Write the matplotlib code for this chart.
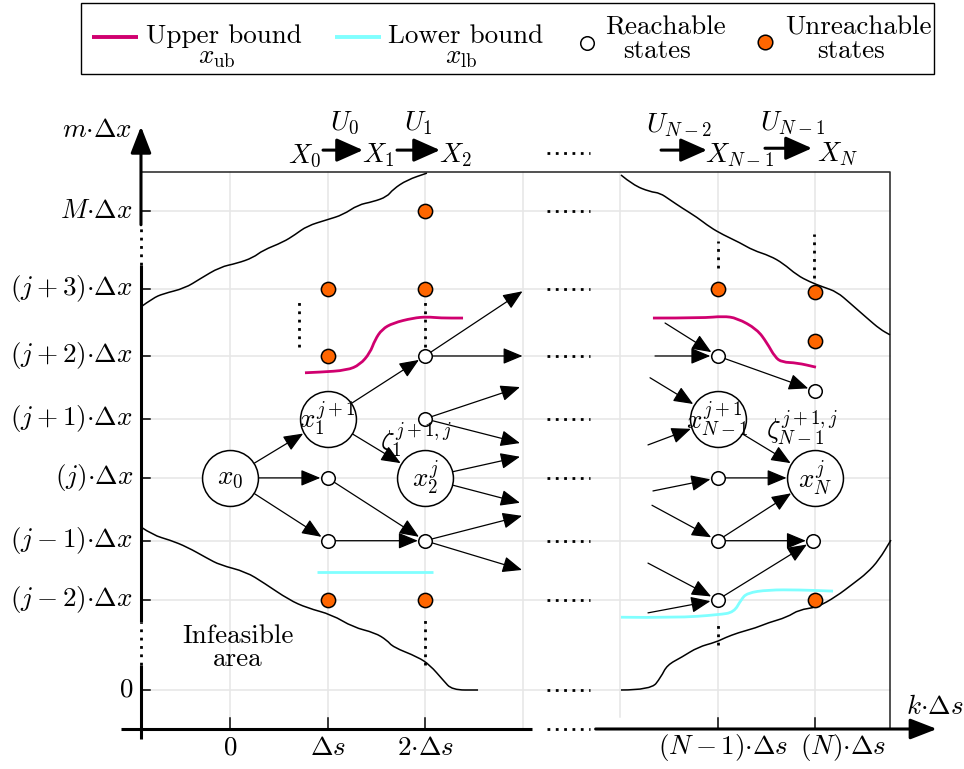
import matplotlib.pyplot as plt
from matplotlib.path import Path
from matplotlib.patches import PathPatch, Rectangle

plt.rcParams['font.family'] = 'cmr10'
plt.rcParams['mathtext.fontset'] = 'cm'
plt.rcParams['axes.formatter.use_mathtext'] = True

FS = 19.5
UB_COLOR = '#d0006f'
LB_COLOR = '#80ffff'
ORANGE = '#ff6600'
GRID = '#e6e6e6'

# grid columns (k) and rows (m)
col_pos = [0, 1, 2, 5, 6]
col_labels = [r'$0$', r'$\Delta s$', r'$2{\cdot}\Delta s$',
              r'$(N-1){\cdot}\Delta s$', r'$(N){\cdot}\Delta s$']
col_label_shift = [0, 0, 0, 0.06, 0.29]
row_names = ['0', 'j-2', 'j-1', 'j', 'j+1', 'j+2', 'j+3', 'M']
row_pos = [0, 1.45, 2.40, 3.41, 4.36, 5.37, 6.45, 7.70]
row_labels = [r'$0$', r'$(j-2){\cdot}\Delta x$', r'$(j-1){\cdot}\Delta x$',
              r'$(j){\cdot}\Delta x$', r'$(j+1){\cdot}\Delta x$',
              r'$(j+2){\cdot}\Delta x$', r'$(j+3){\cdot}\Delta x$',
              r'$M{\cdot}\Delta x$']
R = dict(zip(row_names, row_pos))

# feasibility boundaries
ul_x = [-0.913, -0.79, -0.687, -0.462, -0.308, -0.103, 0.072, 0.236, 0.338, 0.544,
        0.667, 0.79, 0.995, 1.159, 1.313, 1.467, 1.61, 1.672, 1.815, 2.02]
ul_y = [6.16, 6.30, 6.37, 6.46, 6.61, 6.80, 6.86, 6.95, 7.07, 7.20,
        7.32, 7.46, 7.56, 7.64, 7.80, 7.85, 7.93, 8.05, 8.20, 8.31]
ll_x = [-0.913, -0.79, -0.615, -0.441, -0.236, -0.103, 0.164, 0.349, 0.605, 0.79,
        1.046, 1.262, 1.487, 1.61, 1.672, 1.928, 2.051, 2.185, 2.277, 2.544]
ll_y = [2.62, 2.49, 2.41, 2.30, 2.12, 2.01, 1.90, 1.72, 1.45, 1.32,
        1.21, 1.01, 0.92, 0.80, 0.69, 0.53, 0.40, 0.16, 0.0, 0.0]
ur_x = [4.01, 4.133, 4.308, 4.41, 4.513, 4.636, 4.79, 4.923, 5.056, 5.231, 5.364,
        5.538, 5.672, 5.815, 5.949, 6.082, 6.226, 6.359, 6.533, 6.667, 6.769]
ur_y = [8.28, 8.12, 8.01, 7.99, 7.88, 7.75, 7.60, 7.44, 7.32, 7.19, 7.07,
        6.98, 6.86, 6.67, 6.56, 6.48, 6.40, 6.22, 5.98, 5.80, 5.71]
lr_x = [4.01, 4.318, 4.421, 4.482, 4.636, 4.8, 4.985, 5.077, 5.21, 5.395,
        5.518, 5.713, 5.836, 6.021, 6.215, 6.4, 6.533, 6.656, 6.779]
lr_y = [0.0, 0.0, 0.21, 0.40, 0.53, 0.69, 0.77, 0.84, 0.92, 1.00,
        1.08, 1.17, 1.29, 1.33, 1.50, 1.72, 1.88, 2.09, 2.41]

# upper / lower bounds
ub_left_x = [0.769, 0.923, 1.2, 1.333, 1.436, 1.487, 1.559, 1.672, 1.877, 2.021, 2.154, 2.39]
ub_left_y = [5.10, 5.11, 5.14, 5.23, 5.42, 5.63, 5.80, 5.90, 5.98, 6.00, 5.98, 5.98]
ub_right_x = [4.338, 4.851, 5.056, 5.2, 5.405, 5.508, 5.59, 5.662, 5.815, 6.01]
ub_right_y = [5.98, 5.98, 6.01, 5.98, 5.80, 5.58, 5.35, 5.27, 5.26, 5.19]
lb_left_x = [0.892, 2.082]
lb_left_y = [1.90, 1.90]
lb_right_x = [4.01, 4.574, 5.015, 5.169, 5.241, 5.303, 5.518, 5.836, 6.185]
lb_right_y = [1.17, 1.16, 1.21, 1.25, 1.45, 1.56, 1.61, 1.61, 1.59]

# state nodes
big_nodes = [(0, R['j']), (1, R['j+1']), (2, R['j']), (5, R['j+1']), (6, R['j'])]
big_labels = [r'$x_0$', r'$x_1^{j+1}$', r'$x_2^{j}$', r'$x_{N-1}^{j+1}$', r'$x_N^{j}$']
reachable = [(1, R['j']), (1, R['j-1']), (2, R['j+2']), (2, R['j+1']), (2, R['j-1']),
             (5, R['j+2']), (5, R['j']), (5, R['j-1']), (5, R['j-2']),
             (6, 4.81), (5.98, R['j-1'])]
unreachable = [(1, R['j+3']), (1, R['j+2']), (1, R['j-2']), (2, R['M']), (2, R['j+3']),
               (2, R['j-2']), (5, R['j+3']), (6, 6.40), (6, 5.61), (6, R['j-2'])]

# transitions (start, end); loose ends have no node
edges = [
    ((0, R['j']), (1, R['j+1'])), ((0, R['j']), (1, R['j'])), ((0, R['j']), (1, R['j-1'])),
    ((1, R['j+1']), (2, R['j+2'])), ((1, R['j+1']), (2, R['j'])),
    ((1, R['j']), (2, R['j-1'])), ((1, R['j-1']), (2, R['j-1'])),
    ((2, R['j+2']), (3.0, 6.41)), ((2, R['j+2']), (3.0, 5.37)),
    ((2, R['j+1']), (2.974, 4.87)), ((2, R['j+1']), (2.974, 3.97)),
    ((2, R['j']), (2.974, 3.75)), ((2, R['j']), (2.974, 3.01)),
    ((2, R['j-1']), (2.995, 2.80)), ((2, R['j-1']), (2.995, 1.93)),
    ((4.462, 5.90), (5, R['j+2'])), ((4.359, 5.37), (5, R['j+2'])),
    ((4.308, 5.02), (5, R['j+1'])), ((4.287, 3.94), (5, R['j+1'])),
    ((4.338, 3.20), (5, R['j'])), ((4.328, 2.97), (5, R['j-1'])),
    ((4.287, 2.04), (5, R['j-2'])), ((4.287, 1.24), (5, R['j-2'])),
    ((5, R['j+2']), (6, 4.81)), ((5, R['j+1']), (6, R['j'])),
    ((5, R['j']), (6, R['j'])), ((5, R['j-1']), (6, R['j'])),
    ((5, R['j-1']), (5.98, R['j-1'])), ((5, R['j-2']), (5.98, R['j-1'])),
]

# vertical "..." markers (x, y0, y1)
vdots = [(0.71, 5.52, 6.23), (2, 5.52, 6.30), (2, 0.40, 1.13),
         (5, 6.79, 7.22), (5.99, 6.62, 7.33), (5, 0.72, 1.13)]
hdots_y = row_pos + [8.63]

# legend entries
legend_names = ['Upper bound', 'Lower bound', 'Reachable', 'Unreachable']
legend_subs = [r'$x_{\rm ub}$', r'$x_{\rm lb}$', 'states', 'states']

X_AX = -0.913   # y axis position
Y_AX = -0.627   # x axis position
X_END = 6.769
Y_TOP = 8.328
DOTS = (0, (1, 2))


def smooth_curve(ax, xs, ys, **kw):
    # quadratic bezier through the midpoints of the read points
    pts = list(zip(xs, ys))
    verts, codes = [pts[0]], [Path.MOVETO]
    for i in range(1, len(pts) - 1):
        mid = ((pts[i][0] + pts[i + 1][0]) / 2, (pts[i][1] + pts[i + 1][1]) / 2)
        verts += [pts[i], mid]
        codes += [Path.CURVE3, Path.CURVE3]
    verts.append(pts[-1])
    codes.append(Path.LINETO)
    ax.add_patch(PathPatch(Path(verts, codes), fill=False, **kw))


fig = plt.figure(figsize=(9.64, 7.69), dpi=100)
ax = fig.add_axes([0, 0, 1, 1])
ax.set_xlim(-230 / 97.5, (964 - 230) / 97.5)
ax.set_ylim((690 - 769) / 62.2, 690 / 62.2)
ax.axis('off')

# grid
for x in [0, 1, 2, 3, 4, 5, 6]:
    ax.plot([x, x], [-0.43 if x != 3 else Y_AX, Y_TOP], color=GRID, lw=1.1, zorder=0)
for y in row_pos:
    ax.plot([X_AX, X_END], [y, y], color=GRID, lw=1.1, zorder=0)

# frame
ax.plot([X_AX, X_END, X_END], [Y_TOP, Y_TOP, Y_AX], color='#333333', lw=1.2, zorder=1)

# axes with arrows
ax.plot([X_AX, X_AX], [-0.79, 0.40], color='k', lw=2.2, solid_capstyle='butt')
ax.plot([X_AX, X_AX], [1.10, 6.83], color='k', lw=2.2, solid_capstyle='butt')
ax.annotate('', xy=(X_AX, 9.06), xytext=(X_AX, 7.48),
            arrowprops=dict(arrowstyle='-|>,head_length=0.9,head_width=0.35',
                            color='k', lw=2.2, mutation_scale=18, shrinkA=0, shrinkB=0))
for y0, y1 in [(0.40, 1.10), (6.83, 7.48)]:
    ax.plot([X_AX, X_AX], [y0, y1], color='k', lw=2.0, ls=DOTS)
ax.plot([-1.118, 3.10], [Y_AX, Y_AX], color='k', lw=2.2, solid_capstyle='butt')
ax.annotate('', xy=(7.25, Y_AX), xytext=(3.75, Y_AX),
            arrowprops=dict(arrowstyle='-|>,head_length=0.9,head_width=0.35',
                            color='k', lw=2.2, mutation_scale=18, shrinkA=0, shrinkB=0))
ax.plot([3.25, 3.69], [Y_AX, Y_AX], color='k', lw=2.0, ls=DOTS)

for y, lab in zip(row_pos, row_labels):
    ax.plot([X_AX, X_AX + 0.095], [y, y], color='k', lw=1.1)
    ax.text(-0.995, y, lab, ha='right', va='center', fontsize=FS)
for x, lab, dx in zip(col_pos, col_labels, col_label_shift):
    ax.plot([x, x], [Y_AX, -0.45], color='k', lw=1.1)
    ax.text(x + dx, -0.93, lab, ha='center', va='center', fontsize=FS)
ax.text(-1.36, 9.0, r'$m{\cdot}\Delta x$', ha='center', va='center', fontsize=FS)
ax.text(7.23, -0.28, r'$k{\cdot}\Delta s$', ha='center', va='center', fontsize=FS)

# boundaries and bounds
for xs, ys in [(ul_x, ul_y), (ll_x, ll_y), (ur_x, ur_y), (lr_x, lr_y)]:
    smooth_curve(ax, xs, ys, edgecolor='k', lw=1.1, zorder=2)
for xs, ys in [(ub_left_x, ub_left_y), (ub_right_x, ub_right_y)]:
    smooth_curve(ax, xs, ys, edgecolor=UB_COLOR, lw=2, zorder=2)
for xs, ys in [(lb_left_x, lb_left_y), (lb_right_x, lb_right_y)]:
    smooth_curve(ax, xs, ys, edgecolor=LB_COLOR, lw=2, zorder=2)

# dotted continuation marks
for x, y0, y1 in vdots:
    ax.plot([x, x], [y0, y1], color='k', lw=2.0, ls=DOTS, zorder=2)
for y in hdots_y:
    ax.plot([3.25, 3.69], [y, y], color='k', lw=2.0, ls=DOTS, zorder=2)


# transitions
def radius(p):
    if p in big_nodes:
        return 20.5
    if p in reachable:
        return 5.2
    return 0


for a, b in edges:
    ax.annotate('', xy=b, xytext=a,
                arrowprops=dict(arrowstyle='-|>,head_length=0.6,head_width=0.25',
                                color='k', lw=0.9, mutation_scale=20,
                                shrinkA=radius(a), shrinkB=radius(b)), zorder=3)

# nodes
ax.scatter([p[0] for p in big_nodes], [p[1] for p in big_nodes], s=1620,
           facecolor='white', edgecolor='k', lw=1.1, zorder=4)
for p, lab in zip(big_nodes, big_labels):
    ax.text(p[0], p[1], lab, ha='center', va='center', fontsize=FS, zorder=5)
ax.scatter([p[0] for p in reachable], [p[1] for p in reachable], s=95,
           facecolor='white', edgecolor='k', lw=1.1, zorder=4)
ax.scatter([p[0] for p in unreachable], [p[1] for p in unreachable], s=105,
           facecolor=ORANGE, edgecolor='k', lw=1.1, zorder=4)

ax.text(1.54, 4.02, r'$\zeta_1^{j+1,j}$', ha='left', va='center', fontsize=FS, zorder=6)
ax.text(5.497, 4.21, r'$\zeta_{N-1}^{j+1,j}$', ha='left', va='center', fontsize=FS,
        zorder=6)
ax.text(0.082, 0.675, 'Infeasible\narea', ha='center', va='center', fontsize=FS,
        linespacing=0.95)

# control sequence along the top
seq_x = [0.77, 1.52, 2.31]
seq_labels = [r'$X_0$', r'$X_1$', r'$X_2$']
for x, lab in zip(seq_x, seq_labels):
    ax.text(x, 8.6, lab, ha='center', va='center', fontsize=FS)
ax.text(5.23, 8.6, r'$X_{N-1}$', ha='center', va='center', fontsize=FS)
ax.text(6.23, 8.62, r'$X_N$', ha='center', va='center', fontsize=FS)
for x, y, lab in [(1.18, 9.12, r'$U_0$'), (1.93, 9.12, r'$U_1$'),
                  (4.605, 9.08, r'$U_{N-2}$'), (5.774, 9.12, r'$U_{N-1}$')]:
    ax.text(x, y, lab, ha='center', va='center', fontsize=FS)
for x0, x1, y in [(0.954, 1.364, 8.68), (1.713, 2.154, 8.68),
                  (4.421, 4.892, 8.68), (5.487, 5.969, 8.71)]:
    ax.annotate('', xy=(x1, y), xytext=(x0, y),
                arrowprops=dict(arrowstyle='-|>,head_length=0.9,head_width=0.4',
                                color='k', lw=2.2, mutation_scale=18,
                                shrinkA=0, shrinkB=0))

# legend box, laid out in pixels
lax = fig.add_axes([0, 0, 1, 1])
lax.set_xlim(0, 964)
lax.set_ylim(769, 0)
lax.axis('off')
lax.add_patch(Rectangle((81, 3), 853, 71, fill=False, ec='k', lw=1.0))
lax.plot([92, 138], [37, 37], color=UB_COLOR, lw=2.8, solid_capstyle='butt')
lax.plot([335, 381], [37, 37], color=LB_COLOR, lw=2.8, solid_capstyle='butt')
lax.scatter([587], [43], s=95, facecolor='white', edgecolor='k', lw=1.1)
lax.scatter([765], [42], s=110, facecolor=ORANGE, edgecolor='k', lw=1.1)
for x, y, name in zip([146, 388, 605, 785], [36, 36, 28, 28], legend_names):
    lax.text(x, y, name, ha='left', va='center', fontsize=FS)
for x, y, sub in zip([217, 461, 657, 851], [58, 58, 51, 51], legend_subs):
    lax.text(x, y, sub, ha='center', va='center', fontsize=FS)

fig.savefig('out.png', dpi=100)
